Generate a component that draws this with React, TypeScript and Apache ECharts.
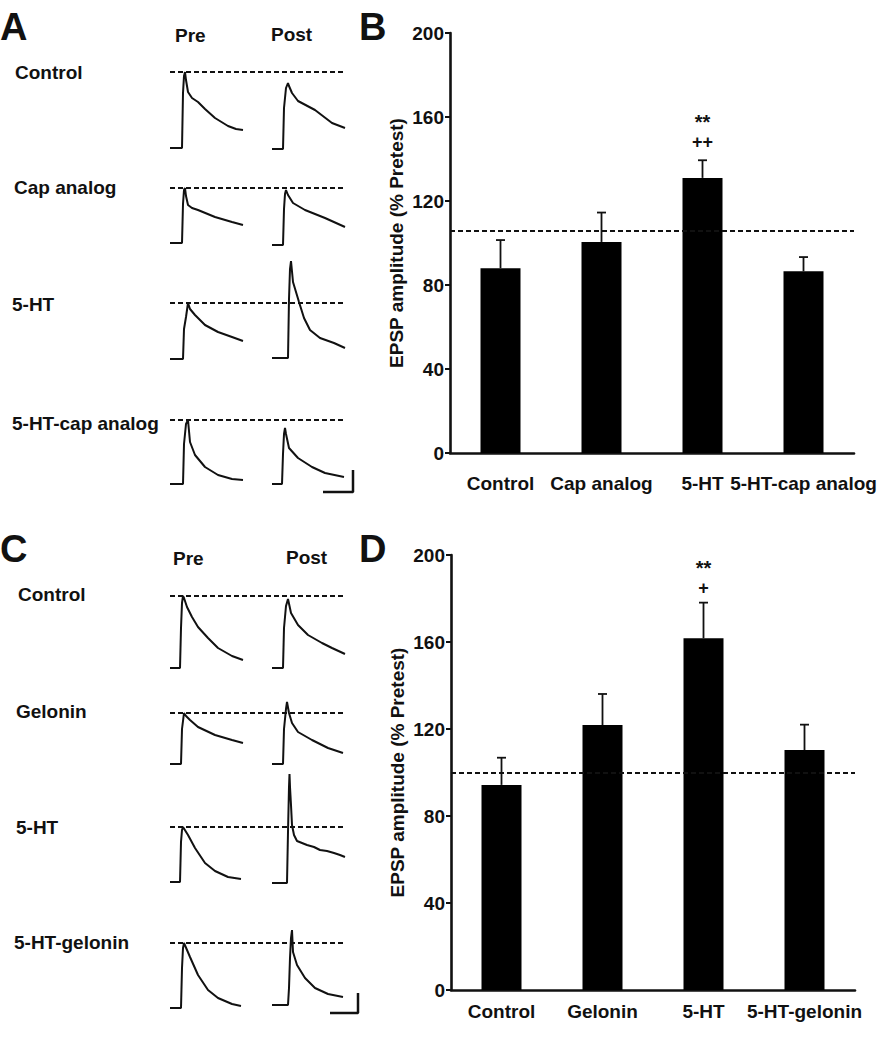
import React, { useEffect, useRef } from "react";
import * as echarts from "echarts";

// ---------- DATA ----------
// Panel B
const CATS_B = ["Control", "Cap analog", "5-HT", "5-HT-cap analog"];
const MEAN_B = [88, 100.5, 131, 86.5];
const SEM_B = [13.4, 14, 8.4, 6.8];
const SIG_B = [["", ""], ["", ""], ["**", "++"], ["", ""]];
const REF_B = 106;

// Panel D
const CATS_D = ["Control", "Gelonin", "5-HT", "5-HT-gelonin"];
const MEAN_D = [94.3, 121.8, 161.7, 110.3];
const SEM_D = [12.5, 14.3, 16.4, 11.7];
const SIG_D = [["", ""], ["", ""], ["**", "+"], ["", ""]];
const REF_D = 100;

const Y_TICKS = [0, 40, 80, 120, 160, 200];

// Panel A traces ([time, amplitude] samples, arbitrary units)
const ROWS_A = ["Control", "Cap analog", "5-HT", "5-HT-cap analog"];
const PRE_A = [
  [[0, 0], [12, 0], [13, 55], [14, 72], [15, 76], [16, 68], [18, 56], [22, 50], [28, 46], [35, 39], [45, 30], [58, 22], [66, 19], [73, 18]],
  [[0, 1], [12, 1], [13, 40], [14, 54], [15, 56], [16, 48], [18, 39], [22, 36], [28, 34], [45, 27], [62, 22], [73, 19]],
  [[0, 0], [13, 0], [14, 30], [16, 42], [18, 56], [20, 50], [25, 44], [35, 34], [48, 27], [62, 22], [73, 18]],
  [[0, 0], [13, 0], [14, 40], [16, 60], [18, 64], [20, 42], [25, 29], [35, 17], [48, 9], [62, 5], [73, 4]],
];
const POST_A = [
  [[0, -1], [11, -1], [12, 40], [14, 60], [16, 65], [17, 62], [20, 55], [26, 47], [43, 38], [60, 25], [73, 20]],
  [[0, -1], [11, -1], [12, 35], [13, 50], [14, 54], [16, 49], [21, 41], [33, 34], [53, 26], [73, 17]],
  [[0, 1], [16, 1], [17, 60], [18, 90], [19, 98], [21, 77], [27, 57], [32, 41], [38, 29], [48, 21], [62, 16], [73, 11]],
  [[0, 0], [10, 0], [11, 30], [12, 50], [13, 56], [14, 50], [17, 36], [26, 26], [40, 17], [53, 11], [72, 7]],
];
const SCALE_A = [[51, -8], [81, -8], [81, 14]];

// Panel C traces
const ROWS_C = ["Control", "Gelonin", "5-HT", "5-HT-gelonin"];
const PRE_C = [
  [[0, 0], [10, 0], [11, 40], [12, 65], [13, 72], [14, 70], [17, 61], [22, 51], [28, 41], [38, 30], [48, 20], [62, 12], [73, 8]],
  [[0, 0], [11, 0], [12, 35], [14, 51], [16, 48], [20, 44], [28, 37], [45, 29], [62, 24], [73, 21]],
  [[0, 0], [10, 0], [11, 40], [12, 52], [13, 55], [18, 47], [25, 34], [35, 19], [45, 11], [58, 5], [71, 3]],
  [[0, 0], [11, 0], [12, 40], [13, 60], [14, 65], [20, 51], [28, 33], [38, 18], [48, 10], [62, 4], [71, 2]],
];
const POST_C = [
  [[0, 0], [11, 0], [12, 40], [14, 62], [16, 69], [19, 55], [26, 43], [36, 33], [50, 25], [60, 20], [73, 14]],
  [[0, 0], [11, 0], [12, 35], [14, 55], [15, 62], [17, 51], [20, 41], [26, 32], [40, 24], [56, 16], [71, 11]],
  [[0, -1], [15, -1], [16, 50], [17, 95], [17.5, 108], [18, 95], [19, 77], [20, 57], [22, 47], [25, 41], [30, 39], [35, 37], [42, 35], [48, 32], [55, 31], [62, 29], [68, 27], [73, 25]],
  [[0, 3], [16, 3], [17, 20], [18, 50], [19, 70], [20, 78], [21, 56], [25, 43], [33, 30], [43, 20], [56, 14], [71, 11]],
];
const SCALE_C = [[58, -5], [86, -5], [86, 15]];

// ---------- LAYOUT ----------
const FONT = '"Liberation Sans", Arial, Helvetica, sans-serif';
const INK = "#111";
const BASE_A = [148, 244, 359, 484];
const BASE_C = [668, 764, 882, 1008];
const LABEL_POS_A = [[15, 72], [14, 187], [12, 304], [12, 423]];
const LABEL_POS_C = [[18, 594], [16, 711], [16, 827], [14, 942]];

export default function App() {
  const ref = useRef<HTMLDivElement>(null);

  useEffect(() => {
    if (!ref.current) return;
    const chart = echarts.init(ref.current, undefined, { renderer: "svg" });

    const grid: any[] = [];
    const xAxis: any[] = [];
    const yAxis: any[] = [];
    const series: any[] = [];

    const boldText = (size: number) => ({
      fontSize: size,
      fontWeight: "bold",
      fontFamily: FONT,
      color: INK,
    });

    // ----- bar panels -----
    const addBarPanel = (
      cats: string[],
      mean: number[],
      sem: number[],
      sig: string[][],
      refVal: number,
      box: { left: number; top: number; width: number; height: number },
      labelMargin: number,
      sigOffsets: number[]
    ) => {
      const gi = grid.length;
      grid.push({ ...box, containLabel: false });
      xAxis.push({
        type: "category",
        gridIndex: gi,
        data: cats,
        axisLine: { lineStyle: { color: INK, width: 2.6 } },
        axisTick: { show: false },
        axisLabel: { ...boldText(19), margin: labelMargin, interval: 0 },
      });
      yAxis.push({
        type: "value",
        gridIndex: gi,
        min: Y_TICKS[0],
        max: Y_TICKS[Y_TICKS.length - 1],
        interval: Y_TICKS[1] - Y_TICKS[0],
        axisLine: { show: true, lineStyle: { color: INK, width: 2.6 } },
        axisTick: { show: true, length: 5, lineStyle: { color: INK, width: 2 } },
        axisLabel: { ...boldText(19), margin: 6 },
        splitLine: { show: false },
        name: "EPSP amplitude (% Pretest)",
        nameLocation: "middle",
        nameGap: 44,
        nameTextStyle: boldText(19),
      });
      series.push({
        type: "bar",
        xAxisIndex: gi,
        yAxisIndex: gi,
        data: mean,
        barWidth: 40,
        itemStyle: { color: "#000" },
        markLine: {
          silent: true,
          symbol: "none",
          label: { show: false },
          lineStyle: { color: INK, width: 2, type: [5, 3] },
          data: [{ yAxis: refVal }],
        },
      });
      series.push({
        type: "custom",
        xAxisIndex: gi,
        yAxisIndex: gi,
        z: 5,
        data: mean.map((m, i) => [i, m, sem[i]]),
        encode: { x: 0, y: 1 },
        renderItem: (params: any, api: any) => {
          const i = api.value(0);
          const m = api.value(1);
          const e = api.value(2);
          const p0 = api.coord([i, m]);
          const p1 = api.coord([i, m + e]);
          const st = { stroke: INK, lineWidth: 1.8 };
          const children: any[] = [
            { type: "line", shape: { x1: p0[0], y1: p0[1], x2: p1[0], y2: p1[1] }, style: st },
            { type: "line", shape: { x1: p1[0] - 4.5, y1: p1[1], x2: p1[0] + 4.5, y2: p1[1] }, style: st },
          ];
          const s = sig[params.dataIndex];
          s.forEach((t, k) => {
            if (!t) return;
            children.push({
              type: "text",
              x: p1[0],
              y: p1[1] + sigOffsets[k],
              style: {
                text: t,
                fontSize: k === 0 ? 20 : 18,
                fontWeight: "bold",
                fontFamily: FONT,
                fill: INK,
                align: "center",
                verticalAlign: "middle",
              },
            });
          });
          return { type: "group", children };
        },
      });
    };

    addBarPanel(CATS_B, MEAN_B, SEM_B, SIG_B, REF_B, { left: 450, top: 33, width: 404, height: 420 }, 21, [-38.5, -18.7]);
    addBarPanel(CATS_D, MEAN_D, SEM_D, SIG_D, REF_D, { left: 451, top: 555, width: 404, height: 435 }, 12, [-35, -14.7]);

    // ----- trace panels -----
    const addTraces = (pre: number[][][], post: number[][][], bases: number[], scale: number[][]) => {
      bases.forEach((b, r) => {
        // row grid (pre trace + dashed reference at the pre peak)
        const gRow = grid.length;
        grid.push({ left: 170, top: b - 110, width: 176, height: 122 });
        xAxis.push({ type: "value", gridIndex: gRow, min: 0, max: 176, show: false });
        yAxis.push({ type: "value", gridIndex: gRow, min: -12, max: 110, show: false });
        series.push({
          type: "line",
          xAxisIndex: gRow,
          yAxisIndex: gRow,
          data: pre[r],
          symbol: "none",
          lineStyle: { color: INK, width: 2 },
          markLine: {
            silent: true,
            symbol: "none",
            label: { show: false },
            lineStyle: { color: INK, width: 2, type: [5, 3] },
            data: [{ type: "max", valueIndex: 1 }],
          },
        });
        // post grid
        const gPost = grid.length;
        grid.push({ left: 272, top: b - 110, width: 90, height: 122 });
        xAxis.push({ type: "value", gridIndex: gPost, min: 0, max: 90, show: false });
        yAxis.push({ type: "value", gridIndex: gPost, min: -12, max: 110, show: false });
        series.push({
          type: "line",
          xAxisIndex: gPost,
          yAxisIndex: gPost,
          data: post[r],
          symbol: "none",
          lineStyle: { color: INK, width: 2 },
        });
        if (r === bases.length - 1) {
          series.push({
            type: "line",
            xAxisIndex: gPost,
            yAxisIndex: gPost,
            data: scale,
            symbol: "none",
            clip: false,
            lineStyle: { color: INK, width: 2.5 },
          });
        }
      });
    };
    addTraces(PRE_A, POST_A, BASE_A, SCALE_A);
    addTraces(PRE_C, POST_C, BASE_C, SCALE_C);

    const txt = (text: string, x: number, y: number, size = 19) => ({
      type: "text",
      x,
      y,
      silent: true,
      style: {
        text,
        fontSize: size,
        fontWeight: "bold",
        fontFamily: FONT,
        fill: INK,
        align: "left",
        verticalAlign: "middle",
      },
    });

    const graphic: any[] = [
      txt("A", 0, 27, 38),
      txt("B", 359, 27, 38),
      txt("C", 0, 549, 38),
      txt("D", 359, 549, 38),
      txt("Pre", 175, 35),
      txt("Post", 271, 34),
      txt("Pre", 173, 558),
      txt("Post", 286, 557),
      ...ROWS_A.map((t, i) => txt(t, LABEL_POS_A[i][0], LABEL_POS_A[i][1])),
      ...ROWS_C.map((t, i) => txt(t, LABEL_POS_C[i][0], LABEL_POS_C[i][1])),
    ];

    chart.setOption({
      animation: false,
      backgroundColor: "#fff",
      grid,
      xAxis,
      yAxis,
      series,
      graphic,
    });

    return () => chart.dispose();
  }, []);

  return (
    <div
      ref={ref}
      style={{ position: "fixed", left: 0, top: 0, width: 892, height: 1050 }}
    />
  );
}
